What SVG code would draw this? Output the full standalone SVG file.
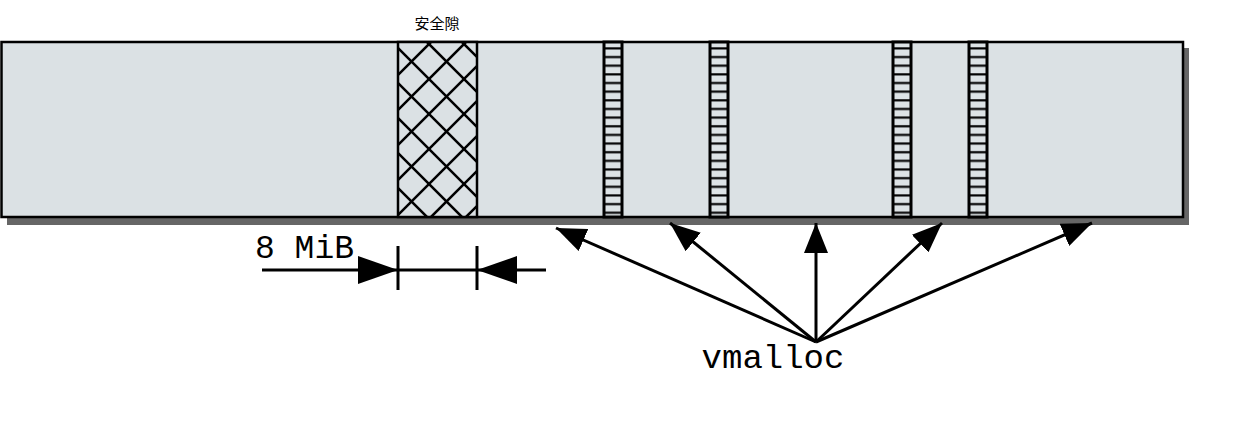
<svg xmlns="http://www.w3.org/2000/svg" width="1236" height="448" viewBox="0 0 1236 448">
  <style>
    .mono { font-family: "Liberation Mono", "Courier New", monospace; fill: #000; }
    .cjk { font-family: "Noto Sans CJK SC", "Noto Sans", sans-serif; fill: #000; }
    .conn { stroke: #000; stroke-width: 3; fill: none; }
    .strip { fill: url(#rungs); stroke: #000; stroke-width: 3; }
  </style>
  <defs>
    <pattern id="rungs" patternUnits="userSpaceOnUse" x="0" y="44.2" width="40" height="8.65">
      <rect x="0" y="0" width="40" height="8.65" fill="#dde3e6"/>
      <line x1="0" y1="4.3" x2="40" y2="4.3" stroke="#000" stroke-width="2.2"/>
    </pattern>
    <clipPath id="hclip">
      <rect x="398" y="42" width="79" height="175"/>
    </clipPath>
    <marker id="ah" markerUnits="userSpaceOnUse" viewBox="0 0 30 24" refX="30" refY="12" markerWidth="30" markerHeight="24" orient="auto">
      <path d="M0,0 L30,12 L0,24 Z" fill="#000"/>
    </marker>
    <marker id="ahbig" markerUnits="userSpaceOnUse" viewBox="0 0 40 28" refX="40" refY="14" markerWidth="40" markerHeight="28" orient="auto">
      <path d="M0,0 L40,14 L0,28 Z" fill="#000"/>
    </marker>
  </defs>

  <g id="memory-bar">
    <rect x="7" y="48" width="1182" height="177" fill="#666"/>
    <rect x="1.5" y="42" width="1181.5" height="175" fill="#dbe1e4" stroke="#000" stroke-width="2.5"/>
  </g>

  <g id="guard-gap">
    <rect x="398" y="42" width="79" height="175" fill="#dbe1e4"/>
    <g clip-path="url(#hclip)" stroke="#000" stroke-width="2.5">
      <path d="M252,42 L427,217 M287,42 L462,217 M322,42 L497,217 M357,42 L532,217 M392,42 L567,217 M427,42 L602,217 M462,42 L637,217 M497,42 L672,217"/>
      <path d="M396,42 L221,217 M431,42 L256,217 M466,42 L291,217 M501,42 L326,217 M536,42 L361,217 M571,42 L396,217 M606,42 L431,217 M641,42 L466,217 M676,42 L501,217"/>
    </g>
    <rect x="398" y="42" width="79" height="175" fill="none" stroke="#000" stroke-width="2.5"/>
    <text class="cjk" x="437" y="29" font-size="15" text-anchor="middle">安全隙</text>
  </g>

  <g id="alloc-1"><rect class="strip" x="604" y="42" width="18" height="175"/></g>
  <g id="alloc-2"><rect class="strip" x="710" y="42" width="18" height="175"/></g>
  <g id="alloc-3"><rect class="strip" x="893" y="42" width="18" height="175"/></g>
  <g id="alloc-4"><rect class="strip" x="969" y="42" width="18" height="175"/></g>

  <g id="size-dimension">
    <line class="conn" x1="262" y1="270" x2="398" y2="270" marker-end="url(#ahbig)"/>
    <line class="conn" x1="398" y1="270" x2="477" y2="270"/>
    <line class="conn" x1="546" y1="270" x2="477" y2="270" marker-end="url(#ahbig)"/>
    <line class="conn" x1="398" y1="246" x2="398" y2="290"/>
    <line class="conn" x1="477" y1="246" x2="477" y2="290"/>
    <text class="mono" x="255" y="258" font-size="33">8 MiB</text>
  </g>

  <g id="vmalloc">
    <text class="mono" x="773" y="368" font-size="34" text-anchor="middle">vmalloc</text>
  </g>

  <g id="connectors">
    <line class="conn" x1="816" y1="342" x2="556" y2="228" marker-end="url(#ah)"/>
    <line class="conn" x1="816" y1="342" x2="670" y2="223" marker-end="url(#ah)"/>
    <line class="conn" x1="816" y1="342" x2="816" y2="223" marker-end="url(#ah)"/>
    <line class="conn" x1="816" y1="342" x2="942" y2="223" marker-end="url(#ah)"/>
    <line class="conn" x1="816" y1="342" x2="1092" y2="223" marker-end="url(#ah)"/>
  </g>
</svg>
